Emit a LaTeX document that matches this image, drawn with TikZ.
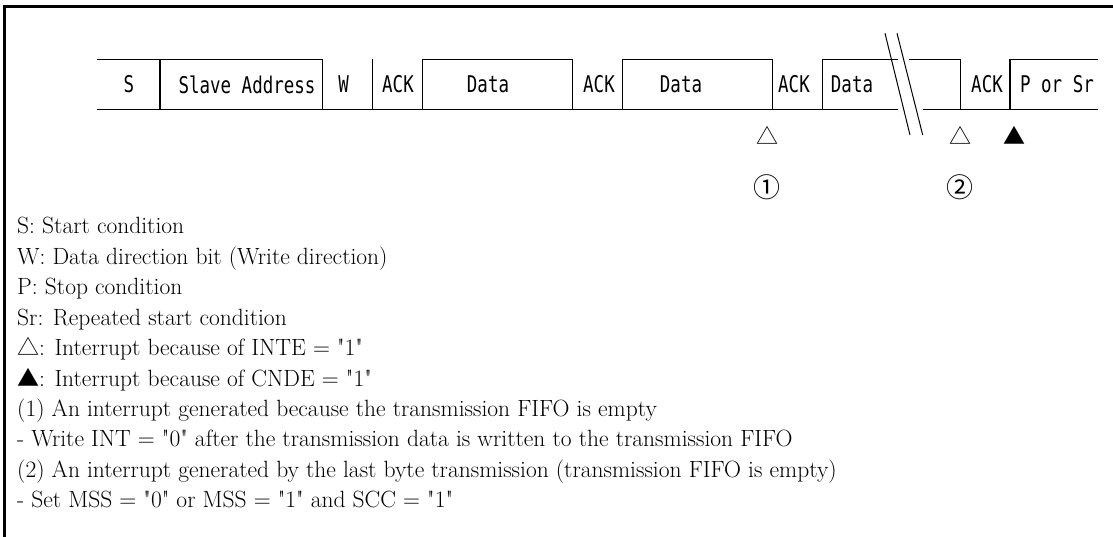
\documentclass[tikz,border=0pt]{standalone}
\usepackage{fontspec}
\newfontfamily\gothic[FakeStretch=0.76]{DejaVu Sans Mono}
\newfontfamily\symfont{Noto Sans CJK JP}
\newfontfamily\legfont{Latin Modern Roman}
\begin{document}
\begin{tikzpicture}[x=1pt,y=-1pt,
  bus/.style={line width=1.4pt},
  frm/.style={line width=2.8pt},
  brk/.style={line width=1pt},
  lbl/.style={font=\gothic\fontsize{23}{23}\selectfont, inner sep=0pt, anchor=center},
  leg/.style={font=\legfont\fontsize{23.5}{26}\selectfont, inner sep=0pt, anchor=base west},
  mk/.style={font=\symfont\fontsize{22}{22}\selectfont, inner sep=0pt, anchor=center},
  num/.style={font=\symfont\fontsize{27}{27}\selectfont, inner sep=0pt, anchor=center}
]
\fill[white] (0,0) rectangle (1113,537);
\useasboundingbox (0,0) rectangle (1113,537);
% frame
\draw[frm] (4.3,537) -- (4.3,6.7) -- (1113,6.7);
% bus bottom line
\draw[bus] (96.5,109.5) -- (898,109.5);
\draw[bus] (923,109.5) -- (1098,109.5);
% S and slave address
\draw[bus] (96.5,59.5) -- (322.5,59.5) -- (322.5,109.5);
\draw[bus] (160,59.5) -- (160,109.5);
\draw[bus] (372.5,59.5) -- (372.5,109.5);
% data boxes
\draw[bus] (422.5,109.5) -- (422.5,59.5) -- (572.3,59.5) -- (572.3,109.5);
\draw[bus] (622.2,109.5) -- (622.2,59.5) -- (772.6,59.5) -- (772.6,109.5);
\draw[bus] (822.3,109.5) -- (822.3,59.5) -- (898,59.5);
\draw[bus] (909,59.5) -- (960.4,59.5) -- (960.4,109.5);
\draw[bus] (1010,109.5) -- (1010,59.5) -- (1098,59.5);
% break marks
\draw[brk] (885,33.3) -- (910,135);
\draw[brk] (897,33.3) -- (922.7,135);
% labels
\node[lbl] (lS) at (129,84.5) {S};
\node[lbl] (lSA) at (247,84.5) {Slave Address};
\node[lbl] (lW) at (343.6,84.5) {W};
\node[lbl] (lA1) at (398,84.5) {ACK};
\node[lbl] (lD1) at (488,84.5) {Data};
\node[lbl] (lA2) at (599,84.5) {ACK};
\node[lbl] (lD2) at (681,84.5) {Data};
\node[lbl] (lA3) at (794,84.5) {ACK};
\node[lbl] (lD3) at (852,84.5) {Data};
\node[lbl] (lA4) at (987,84.5) {ACK};
\node[lbl] (lP) at (1057,84.5) {P or Sr};
% markers
\node[mk] (t1) at (767,135) {△};
\node[mk] (t2) at (960,135) {△};
\node[mk] (t3) at (1014,135) {▲};
\node[num] (n1) at (767,187.5) {①};
\node[num] (n2) at (960,187.5) {②};
% legend
\node[leg] (g1) at (17,234) {S: Start condition};
\node[leg] (g2) at (17,264.4) {W: Data direction bit (Write direction)};
\node[leg] (g3) at (17,294.8) {P: Stop condition};
\node[leg] (g4) at (17,325.2) {Sr: Repeated start condition};
\node[leg] (g5) at (17,355.6) {{\symfont\fontsize{22}{22}\selectfont △}: Interrupt because of INTE = "1"};
\node[leg] (g6) at (17,386) {{\symfont\fontsize{22}{22}\selectfont ▲}: Interrupt because of CNDE = "1"};
\node[leg] (g7) at (17,416.4) {(1) An interrupt generated because the transmission FIFO is empty};
\node[leg] (g8) at (17,446.8) {- Write INT = "0" after the transmission data is written to the transmission FIFO};
\node[leg] (g9) at (17,477.2) {(2) An interrupt generated by the last byte transmission (transmission FIFO is empty)};
\node[leg] (g10) at (17,507.6) {- Set MSS = "0" or MSS = "1" and SCC = "1"};
\end{tikzpicture}
\end{document}
